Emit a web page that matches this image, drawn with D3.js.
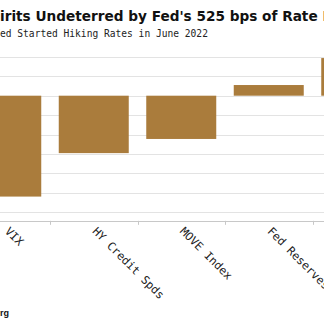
<!DOCTYPE html>
<html>
<head>
<meta charset="utf-8">
<script src="https://cdn.jsdelivr.net/npm/d3@7"></script>
<style>
  body { margin: 0; background: #fff; }
  svg { display: block; }
</style>
</head>
<body>
<div id="chart"></div>
<script>
// Change since the Fed started hiking (pct)
var categories = ["VIX", "HY Credit Spds", "MOVE Index", "Fed Reserves", "S&P 500"];
var changes = [-52, -29.6, -22.3, 5.5, 19.4];
var yTicks = [-60, -50, -40, -30, -20, -10, 0, 10, 20];

var titleText = "Risk Spirits Undeterred by Fed's 525 bps of Rate Hikes";
var subtitleText = "Change Since Fed Started Hiking Rates in June 2022";
var sourceText = "Source: Bloomberg";

var width = 324;
var height = 332;

var svg = d3.select("#chart").append("svg")
  .attr("width", width)
  .attr("height", height);

var x = d3.scaleBand()
  .domain(categories)
  .range([-37.5, 400])
  .paddingInner(0.2)
  .paddingOuter(0.1);

var y = d3.scaleLinear()
  .domain([-60, 20])
  .range([212.1, 56.9]);

var axisY = y(-64.5);

// gridlines
svg.append("g")
  .selectAll("line")
  .data(yTicks)
  .enter().append("line")
  .attr("x1", 0).attr("x2", width)
  .attr("y1", function(d) { return Math.round(y(d)) + 0.5; })
  .attr("y2", function(d) { return Math.round(y(d)) + 0.5; })
  .attr("stroke", "#e3e3e3")
  .attr("stroke-width", 1);

// bars
svg.append("g")
  .selectAll("rect")
  .data(categories)
  .enter().append("rect")
  .attr("x", function(d) { return x(d); })
  .attr("width", x.bandwidth())
  .attr("y", function(d, i) { return y(Math.max(0, changes[i])); })
  .attr("height", function(d, i) { return Math.abs(y(changes[i]) - y(0)); })
  .attr("fill", "#aa7c3c");

// x axis line and ticks between bands
svg.append("line")
  .attr("x1", 0).attr("x2", width)
  .attr("y1", Math.round(axisY) + 0.5).attr("y2", Math.round(axisY) + 0.5)
  .attr("stroke", "#c8c8c8");

var gap = x.step() * x.paddingInner() / 2;
svg.append("g")
  .selectAll("line")
  .data(categories.slice(1))
  .enter().append("line")
  .attr("x1", function(d) { return Math.round(x(d) - gap) + 0.5; })
  .attr("x2", function(d) { return Math.round(x(d) - gap) + 0.5; })
  .attr("y1", axisY).attr("y2", axisY + 4)
  .attr("stroke", "#c8c8c8");

// rotated category labels
svg.append("g")
  .selectAll("text")
  .data(categories)
  .enter().append("text")
  .attr("transform", function(d) {
    return "translate(" + (x(d) + x.bandwidth() / 2 + 4) + "," + (axisY + 5) + ") rotate(45)";
  })
  .attr("dy", "0.75em")
  .style("font-family", "'DejaVu Sans Mono', monospace")
  .style("font-size", "11.4px")
  .style("fill", "#222")
  .text(function(d) { return d; });

// title and subtitle, both running off the left edge
var title = svg.append("text")
  .attr("y", 21)
  .style("font-family", "'DejaVu Sans', Verdana, sans-serif")
  .style("font-weight", "bold")
  .style("font-size", "14px")
  .style("fill", "#111")
  .text(titleText);

var measure = function(sel, str) {
  var t = svg.append("text")
    .style("font-family", sel.style("font-family"))
    .style("font-weight", sel.style("font-weight"))
    .style("font-size", sel.style("font-size"))
    .text(str);
  var w = t.node().getComputedTextLength();
  t.remove();
  return w;
};

// fit "irits ... Rate" into the visible width
var visible = measure(title, "irits Undeterred by Fed's 525 bps of Rate");
title.style("font-size", (14 * 318 / visible) + "px");
title.attr("x", -measure(title, "Risk Sp"));

var subtitle = svg.append("text")
  .attr("y", 37)
  .style("font-family", "'DejaVu Sans Mono', monospace")
  .style("font-size", "9.6px")
  .style("fill", "#222")
  .text(subtitleText);
subtitle.attr("x", -measure(subtitle, "Change Since F"));

var source = svg.append("text")
  .attr("y", 316)
  .style("font-family", "'Liberation Sans', Arial, sans-serif")
  .style("font-weight", "bold")
  .style("font-size", "9px")
  .style("fill", "#111")
  .text(sourceText);
source.attr("x", -measure(source, "Source: Bloombe"));
</script>
</body>
</html>
